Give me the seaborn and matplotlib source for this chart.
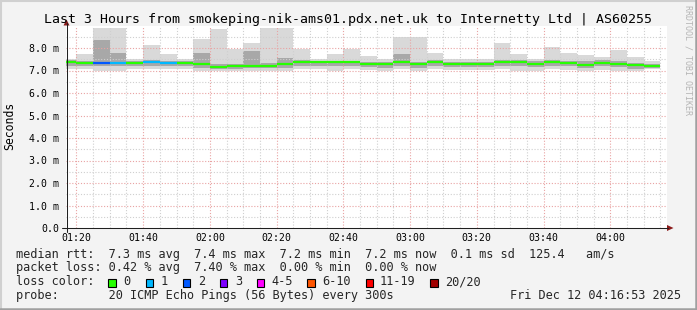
import numpy as np
import pandas as pd
import matplotlib
matplotlib.use("Agg")
import matplotlib.pyplot as plt
import matplotlib.dates as mdates
from matplotlib.lines import Line2D
from matplotlib.patches import Rectangle, Polygon
import seaborn as sns

# ---------------- data ----------------
title = "Last 3 Hours from smokeping-nik-ams01.pdx.net.uk to Internetty Ltd | AS60255"
bin_start = pd.date_range("2025-12-12 01:15", periods=36, freq="5min")

median_ms = [7.40, 7.32, 7.35, 7.35, 7.35, 7.37, 7.35, 7.35, 7.27, 7.17,
             7.20, 7.21, 7.22, 7.27, 7.36, 7.36, 7.36, 7.36, 7.30, 7.30,
             7.38, 7.27, 7.37, 7.31, 7.28, 7.28, 7.37, 7.37, 7.30, 7.37,
             7.35, 7.24, 7.35, 7.30, 7.24, 7.21]
smoke_max = [7.50, 7.73, 8.90, 8.90, 7.50, 8.15, 7.73, 7.53, 8.38, 8.86,
             7.97, 8.22, 8.90, 8.90, 7.97, 7.53, 7.72, 7.97, 7.63, 7.53,
             8.49, 8.49, 7.78, 7.50, 7.50, 7.50, 8.22, 7.75, 7.50, 8.05,
             7.80, 7.70, 7.60, 7.90, 7.60, 7.40]
smoke_hi = [7.46, 7.42, 8.34, 7.78, 7.44, 7.45, 7.42, 7.42, 7.80, 7.30,
            7.30, 7.85, 7.32, 7.55, 7.45, 7.43, 7.43, 7.43, 7.40, 7.40,
            7.72, 7.40, 7.45, 7.40, 7.38, 7.38, 7.47, 7.46, 7.40, 7.45,
            7.43, 7.40, 7.45, 7.40, 7.34, 7.30]
smoke_lo = [7.22, 7.18, 7.22, 7.22, 7.22, 7.22, 7.20, 7.20, 7.12, 7.05,
            7.08, 7.10, 7.10, 7.12, 7.20, 7.20, 7.18, 7.18, 7.15, 7.12,
            7.20, 7.12, 7.20, 7.15, 7.14, 7.14, 7.20, 7.18, 7.14, 7.20,
            7.18, 7.10, 7.18, 7.14, 7.08, 7.10]
smoke_min = [7.05, 7.05, 7.00, 7.00, 7.05, 7.05, 7.05, 7.05, 7.00, 6.98,
             7.00, 7.00, 7.00, 7.00, 7.05, 7.05, 7.00, 7.05, 7.02, 7.00,
             7.05, 7.00, 7.05, 7.02, 7.02, 7.02, 7.05, 7.00, 7.00, 7.05,
             7.02, 7.00, 7.02, 7.00, 7.00, 7.05]
loss_count = [0, 0, 2, 1, 0, 1, 1, 0, 0, 0,
              0, 0, 0, 0, 0, 0, 0, 0, 0, 0,
              0, 0, 0, 0, 0, 0, 0, 0, 0, 0,
              0, 0, 0, 0, 0, 0]

loss_labels = ["0", "1", "2", "3", "4-5", "6-10", "11-19", "20/20"]
loss_upper = [0, 1, 2, 3, 5, 10, 19, 20]
loss_colors = ["#26ff00", "#00b8ff", "#0059ff", "#7e00ff",
               "#ff00ff", "#ff5500", "#ff0000", "#a10000"]

y_ticks = [0, 1, 2, 3, 4, 5, 6, 7, 8]
y_tick_labels = ["0.0", "1.0 m", "2.0 m", "3.0 m", "4.0 m",
                 "5.0 m", "6.0 m", "7.0 m", "8.0 m"]
x_tick_labels = ["01:20", "01:40", "02:00", "02:20", "02:40",
                 "03:00", "03:20", "03:40", "04:00"]
window_start = "2025-12-12 01:16:53"
window_end = "2025-12-12 04:16:53"

line_rtt = "median rtt:  7.3 ms avg  7.4 ms max  7.2 ms min  7.2 ms now  0.1 ms sd  125.4   am/s"
line_loss = "packet loss: 0.42 % avg  7.40 % max  0.00 % min  0.00 % now"
line_probe = "probe:       20 ICMP Echo Pings (56 Bytes) every 300s"
timestamp = "Fri Dec 12 04:16:53 2025"

# ---------------- style ----------------
sns.set_style("white")
MONO = ["DejaVu Sans Mono"]
plt.rcParams["font.family"] = MONO

W, H = 697, 310
BG = "#f3f3f3"
fig = plt.figure(figsize=(W / 100, H / 100), dpi=100, facecolor=BG)


def fx(x):
    return x / W


def fy(y):
    return 1 - y / H


ax = fig.add_axes([fx(66), fy(228), 600.7 / W, (228 - 25.5) / H])
ax.set_facecolor("white")

t0 = mdates.date2num(pd.Timestamp(window_start))
t1 = mdates.date2num(pd.Timestamp(window_end))
ax.set_xlim(t0, t1)
ax.set_ylim(0, 9.0)

# grid
grid_minor = pd.date_range("2025-12-12 01:20", "2025-12-12 04:15", freq="5min")
for t in grid_minor:
    major = (t.minute % 20 == 0)
    ax.axvline(mdates.date2num(t), color="#e9a3a3" if major else "#cfcfcf",
               lw=0.8, ls=(0, (1, 1.6)), zorder=2.5)
for v in np.arange(0.5, 9.0, 0.5):
    major = float(v).is_integer()
    ax.axhline(v, color="#e9a3a3" if major else "#cfcfcf",
               lw=0.8, ls=(0, (1, 1.6)), zorder=2.5)

# smoke
xs = mdates.date2num(bin_start)
width = 5 / 1440
smx = np.array(smoke_max)
smn = np.array(smoke_min)
shi = np.array(smoke_hi)
slo = np.array(smoke_lo)
ax.bar(xs, smx - smn, bottom=smn, width=width, align="edge",
       color="#d9d9d9", linewidth=0, zorder=1)
ax.bar(xs, shi - slo, bottom=slo, width=width, align="edge",
       color="#a8a8a8", linewidth=0, zorder=1.2)


def loss_key(n):
    for lab, up in zip(loss_labels, loss_upper):
        if n <= up:
            return lab
    return loss_labels[-1]


rows = []
for i, (t, m, n) in enumerate(zip(bin_start, median_ms, loss_count)):
    rows.append({"bin": i, "t": t, "ms": m, "loss": loss_key(n)})
    rows.append({"bin": i, "t": t + pd.Timedelta(minutes=5), "ms": m, "loss": loss_key(n)})
df = pd.DataFrame(rows)
sns.lineplot(data=df, x="t", y="ms", hue="loss", units="bin", estimator=None,
             palette=dict(zip(loss_labels, loss_colors)), linewidth=1.6,
             legend=False, ax=ax, zorder=4, solid_capstyle="butt")
ax.set_xlim(t0, t1)
ax.set_ylim(0, 9.0)

# ticks
xt = [mdates.date2num(pd.Timestamp("2025-12-12 " + s)) for s in x_tick_labels]
ax.set_xticks(xt)
ax.set_xticklabels(x_tick_labels)
ax.set_yticks(y_ticks)
ax.set_yticklabels(y_tick_labels)
ax.tick_params(axis="both", labelsize=7.1, length=2.2, width=0.7,
               color="#202020", labelcolor="#000000", direction="out")
ax.tick_params(axis="x", pad=1.2)
ax.tick_params(axis="y", pad=2.6)
ax.set_xlabel("")
ax.set_ylabel("")
for s in ax.spines.values():
    s.set_visible(False)

# axis lines + arrows
fig.add_artist(Line2D([fx(62), fx(668)], [fy(228), fy(228)], color="#202020", lw=0.75))
fig.add_artist(Line2D([fx(66.5), fx(66.5)], [fy(232), fy(23)], color="#202020", lw=0.75))
fig.add_artist(Polygon([(fx(667), fy(225)), (fx(673.5), fy(228)), (fx(667), fy(231))],
                       closed=True, color="#8b1a1a", lw=0))
fig.add_artist(Polygon([(fx(63.5), fy(25.5)), (fx(66.5), fy(19.5)), (fx(69.5), fy(25.5))],
                       closed=True, color="#8b1a1a", lw=0))

# frame shading
fig.add_artist(Line2D([0, 1], [fy(0.8), fy(0.8)], color="#d0d0d0", lw=1.5))
fig.add_artist(Line2D([fx(0.8), fx(0.8)], [0, 1], color="#d0d0d0", lw=1.5))
fig.add_artist(Line2D([0, 1], [fy(308.8), fy(308.8)], color="#a0a0a0", lw=1.8))
fig.add_artist(Line2D([fx(695.8), fx(695.8)], [0, 1], color="#a0a0a0", lw=1.8))

# texts
fig.text(fx(348), fy(23), title, ha="center", va="baseline", fontsize=9.55, color="#000000")
fig.text(fx(10), fy(126), "Seconds", rotation=90, ha="center", va="center",
         fontsize=8.3, color="#000000")
fig.text(fx(688), fy(5), "RRDTOOL / TOBI OETIKER", rotation=270, ha="center", va="top",
         fontsize=6.0, color="#b5b5b5")

FS = 8.52
fig.text(fx(16), fy(257.8), line_rtt, ha="left", va="baseline", fontsize=FS)
fig.text(fx(16), fy(271.5), line_loss, ha="left", va="baseline", fontsize=FS)
fig.text(fx(16), fy(285.3), "loss color:", ha="left", va="baseline", fontsize=FS)
fig.text(fx(16), fy(299.1), line_probe, ha="left", va="baseline", fontsize=FS)
fig.text(fx(681.5), fy(299.1), timestamp, ha="right", va="baseline", fontsize=FS)

box_x = [108.3, 145.7, 182.7, 219.7, 256.7, 307.3, 365.7, 430.3]
lab_x = [123.3, 161.0, 197.7, 235.0, 271.7, 322.3, 380.0, 445.3]
for bx, lx, lab, col in zip(box_x, lab_x, loss_labels, loss_colors):
    fig.add_artist(Rectangle((fx(bx), fy(286.5)), 7.2 / W, 7.2 / H, facecolor=col,
                             edgecolor="#000000", lw=0.8))
    fig.text(fx(lx), fy(285.3), lab, ha="left", va="baseline", fontsize=FS)

fig.savefig("out.png", dpi=100, facecolor=BG)
